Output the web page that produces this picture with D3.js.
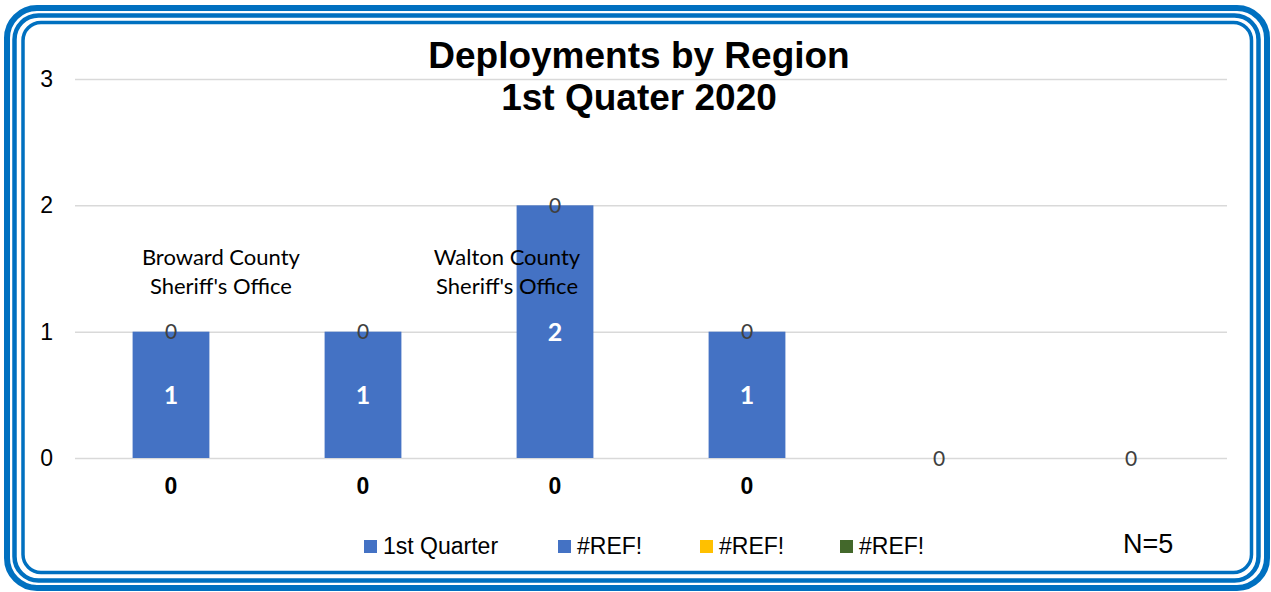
<!DOCTYPE html>
<html><head><meta charset="utf-8">
<script src="https://cdn.jsdelivr.net/npm/d3@7"></script>
<style>body{margin:0;background:#fff}svg{display:block}</style>
</head><body>
<svg id="c" width="1271" height="592"></svg>
<script>
const categories = ["R1","R2","R3","R4","R5","R6"];
const quarterValues = [1,1,2,1,0,0];
const refValues = [0,0,0,0,0,0];
const baseLabels = [0,0,0,0,null,null];
const yTicks = [0,1,2,3];
const legendItems = [
  {name:"1st Quarter", color:"#4472C4"},
  {name:"#REF!", color:"#4472C4"},
  {name:"#REF!", color:"#FFC000"},
  {name:"#REF!", color:"#43682B"}
];
const annotations = [
  {lines:["Broward County","Sheriff's Office"], cat:0.76, value:1.47},
  {lines:["Walton County","Sheriff's Office"], cat:2.25, value:1.47}
];
const titleLines = ["Deployments by Region","1st Quater 2020"];
const noteText = "N=5";

const svg = d3.select("#c");
const W=1271,H=592;
const m={l:75,r:44,t:79,b:134};
// border (left, top, right, bottom centre lines)
[{l:7,t:8,r:1267,b:588,w:6,rx:30},{l:14.5,t:15.5,r:1258.5,b:580.5,w:4.5,rx:24},{l:23,t:22.5,r:1251.5,b:572.5,w:3.5,rx:18}].forEach(b=>{
  svg.append("rect").attr("x",b.l).attr("y",b.t).attr("width",b.r-b.l).attr("height",b.b-b.t)
   .attr("rx",b.rx).attr("fill","none").attr("stroke","#0070C0").attr("stroke-width",b.w);
});
const x=d3.scaleBand().domain(categories).range([m.l,W-m.r]).paddingInner(0.6).paddingOuter(0.3);
const xc=d3.scaleLinear().domain([0,categories.length]).range([m.l,W-m.r]);
const y=d3.scaleLinear().domain([0,3]).range([H-m.b,m.t]);

const ax=svg.append("g").attr("transform",`translate(${m.l},0)`)
 .call(d3.axisLeft(y).tickValues(yTicks).tickSize(-(W-m.l-m.r)).tickPadding(22).tickFormat(d3.format("d")));
ax.select(".domain").remove();
ax.selectAll(".tick line").attr("stroke","#d9d9d9").attr("stroke-width",1.5);
ax.selectAll(".tick text").attr("font-family","Arial, 'Liberation Sans'").attr("font-size",23).attr("fill","#000");

svg.append("g").selectAll("rect").data(categories).join("rect")
 .attr("x",d=>x(d)).attr("width",x.bandwidth())
 .attr("y",(d,i)=>y(quarterValues[i])).attr("height",(d,i)=>y(0)-y(quarterValues[i]))
 .attr("fill","#4472C4");

svg.append("g").selectAll("text").data(categories.filter((d,i)=>quarterValues[i]>0)).join("text")
 .attr("x",d=>x(d)+x.bandwidth()/2).attr("y",d=>y(quarterValues[categories.indexOf(d)]/2))
 .attr("dy","0.36em").attr("text-anchor","middle").attr("fill","#fff")
 .attr("font-family","Lato, 'Open Sans'").attr("font-weight","bold").attr("font-size",25)
 .text(d=>quarterValues[categories.indexOf(d)]);

svg.append("g").selectAll("text").data(categories).join("text")
 .attr("x",d=>x(d)+x.bandwidth()/2).attr("y",(d,i)=>y(quarterValues[i]+refValues[i]))
 .attr("dy","0.36em").attr("text-anchor","middle").attr("fill","#404040")
 .attr("font-family","Lato, 'Open Sans'").attr("font-size",21)
 .text((d,i)=>refValues[i]);

svg.append("g").selectAll("text").data(categories.filter((d,i)=>baseLabels[i]!==null)).join("text")
 .attr("x",d=>x(d)+x.bandwidth()/2).attr("y",y(0)+28)
 .attr("dy","0.36em").attr("text-anchor","middle").attr("fill","#000")
 .attr("font-family","Arial, 'Liberation Sans'").attr("font-weight","bold").attr("font-size",23)
 .text(d=>baseLabels[categories.indexOf(d)]);

annotations.forEach(a=>{
  const t=svg.append("text").attr("x",xc(a.cat)).attr("y",y(a.value))
   .attr("text-anchor","middle").attr("font-family","Lato, 'Open Sans'").attr("font-size",22).attr("fill","#000");
  a.lines.forEach((l,k)=>t.append("tspan").attr("x",xc(a.cat)).attr("dy",k===0?"-0.35em":"1.32em").text(l));
});

const tt=svg.append("text").attr("text-anchor","middle").attr("font-family","Arial, 'Liberation Sans'")
 .attr("font-weight","bold").attr("font-size",37).attr("fill","#000");
titleLines.forEach((l,k)=>tt.append("tspan").attr("x",639).attr("y",68+k*42).text(l));

const lg=svg.append("g");
const lx=[364,558,700,840];
legendItems.forEach((it,k)=>{
  lg.append("rect").attr("x",lx[k]).attr("y",540).attr("width",13).attr("height",13).attr("fill",it.color);
  lg.append("text").attr("x",lx[k]+19).attr("y",546).attr("dy","0.36em")
   .attr("font-family","Arial, 'Liberation Sans'").attr("font-size",23).attr("fill","#000").text(it.name);
});
svg.append("text").attr("x",1123).attr("y",543).attr("dy","0.36em")
 .attr("font-family","Arial, 'Liberation Sans'").attr("font-size",27).attr("fill","#000").text(noteText);
</script>
</body></html>
